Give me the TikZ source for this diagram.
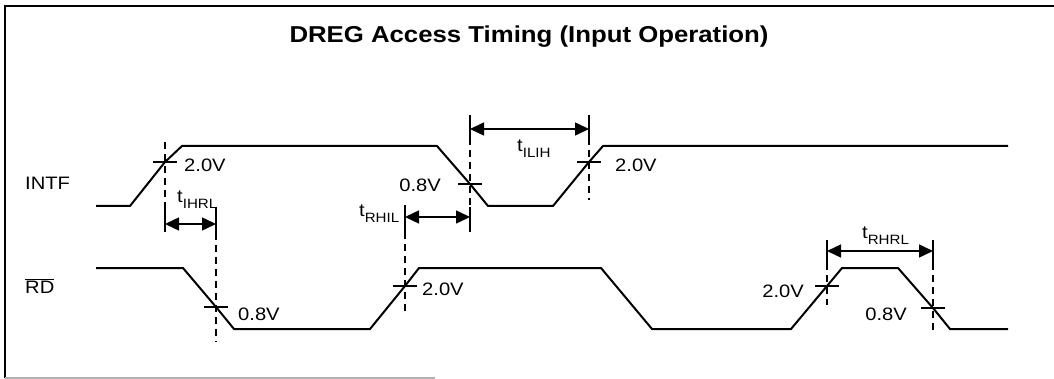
\documentclass[tikz,border=0pt]{standalone}
\usepackage{fontspec}
\setmainfont{Liberation Sans}[FakeStretch=1.12]
\usetikzlibrary{arrows.meta}
\begin{document}
\begin{tikzpicture}[x=1pt,y=-1pt,
  wave/.style={line width=2pt, line join=miter},
  tickmark/.style={line width=1.7pt},
  guide/.style={line width=1.7pt, dash pattern=on 7pt off 5pt},
  barline/.style={line width=1.7pt},
  dimarrow/.style={line width=1.5pt, {Triangle[length=14pt,width=13pt]}-{Triangle[length=14pt,width=13pt]}},
  lbl/.style={font=\fontsize{18}{21}\selectfont, inner sep=0pt},
  tlbl/.style={font=\fontsize{18}{21}\selectfont, inner sep=0pt, anchor=base west},
  framestyle/.style={line width=2pt}
]
\newcommand{\tsub}[1]{t\raisebox{-6pt}{\fontsize{13.5}{14}\selectfont #1}}
\useasboundingbox (0,0) rectangle (1054,379);
% frame
\coordinate (fbl) at (5,378);
\coordinate (ftl) at (5,6);
\coordinate (ftr) at (1054,6);
\coordinate (fbr) at (435,378);
\draw[framestyle] (fbl) -- (ftl) -- (ftr);
\draw[line width=1.5pt, black!30] (fbl) -- (fbr);
% title
\node[inner sep=0pt, anchor=base, font=\fontsize{23}{26}\selectfont\bfseries] (title) at (529,43) {DREG Access Timing (Input Operation)};
% signal names
\node[lbl, anchor=base west] (intf) at (25,190) {INTF};
\node[lbl, anchor=base west] (rd) at (25,293) {$\overline{\mbox{RD}}$};
% crossing points
\coordinate (c1) at (165,162);
\coordinate (c2) at (470,184);
\coordinate (c3) at (589,162);
\coordinate (r1) at (216,307);
\coordinate (r2) at (405,286);
\coordinate (r3) at (827,286);
\coordinate (r4) at (933,308);
% INTF waveform
\draw[wave] (96,206) -- (130,206) -- (c1) -- (182,146) -- (437,146) -- (c2) -- (488,206) -- (553,206) -- (c3) -- (603,146) -- (1008,146);
% RD waveform
\draw[wave] (96,268) -- (183,268) -- (r1) -- (234,329) -- (370,329) -- (r2) -- (419,268) -- (601,268) -- (652,329) -- (791,329) -- (r3) -- (842,268) -- (898,268) -- (r4) -- (950,329) -- (1008,329);
% ticks
\foreach \p in {c1,c2,c3,r1,r2,r3,r4}{
  \draw[tickmark] ([xshift=-12pt]\p) -- ([xshift=12pt]\p);
}
% voltage labels
\node[lbl, anchor=base west] (v1) at (184,172) {2.0V};
\node[lbl, anchor=base east] (v2) at (441,192) {0.8V};
\node[lbl, anchor=base west] (v3) at (615,172) {2.0V};
\node[lbl, anchor=base west] (v4) at (238,320) {0.8V};
\node[lbl, anchor=base west] (v5) at (422,295) {2.0V};
\node[lbl, anchor=base east] (v6) at (804,298) {2.0V};
\node[lbl, anchor=base east] (v7) at (907,320) {0.8V};
% guide / bar coordinates
\coordinate (g1t) at (165,142); \coordinate (g1a) at (165,208); \coordinate (g1b) at (165,232);
\coordinate (g2a) at (216,207); \coordinate (g2b) at (216,233); \coordinate (g2e) at (216,342);
\coordinate (g3a) at (405,205); \coordinate (g3b) at (405,232); \coordinate (g3e) at (405,313);
\coordinate (g4t) at (470,115); \coordinate (g4a) at (470,138); \coordinate (g4c) at (470,207); \coordinate (g4b) at (470,232);
\coordinate (g5t) at (589,115); \coordinate (g5a) at (589,138); \coordinate (g5e) at (589,200);
\coordinate (g6t) at (827,240); \coordinate (g6a) at (827,263); \coordinate (g6e) at (827,305);
\coordinate (g7t) at (933,240); \coordinate (g7a) at (933,263); \coordinate (g7e) at (933,332);
% dashed guides
\draw[guide] (g1t) -- (g1a);
\draw[guide] (g2b) -- (g2e);
\draw[guide] (g3b) -- (g3e);
\draw[guide] (g4a) -- (g4c);
\draw[guide] (g5a) -- (g5e);
\draw[guide] (g6a) -- (g6e);
\draw[guide] (g7a) -- (g7e);
% solid bars
\draw[barline] (g1a) -- (g1b);
\draw[barline] (g2a) -- (g2b);
\draw[barline] (g3a) -- (g3b);
\draw[barline] (g4t) -- (g4a);
\draw[barline] (g4c) -- (g4b);
\draw[barline] (g5t) -- (g5a);
\draw[barline] (g6t) -- (g6a);
\draw[barline] (g7t) -- (g7a);
% dimension arrows
\coordinate (a1l) at (165,224); \coordinate (a1r) at (216,224);
\coordinate (a2l) at (405,217); \coordinate (a2r) at (470,217);
\coordinate (a3l) at (470,129); \coordinate (a3r) at (589,129);
\coordinate (a4l) at (827,251); \coordinate (a4r) at (933,251);
\draw[dimarrow] (a1l) -- (a1r);
\draw[dimarrow] (a2l) -- (a2r);
\draw[dimarrow] (a3l) -- (a3r);
\draw[dimarrow] (a4l) -- (a4r);
% timing labels
\node[tlbl] (t1) at (177,203) {\tsub{IHRL}};
\node[tlbl] (t2) at (359,217) {\tsub{RHIL}};
\node[tlbl] (t3) at (517,152) {\tsub{ILIH}};
\node[tlbl] (t4) at (862,239) {\tsub{RHRL}};
\end{tikzpicture}
\end{document}
